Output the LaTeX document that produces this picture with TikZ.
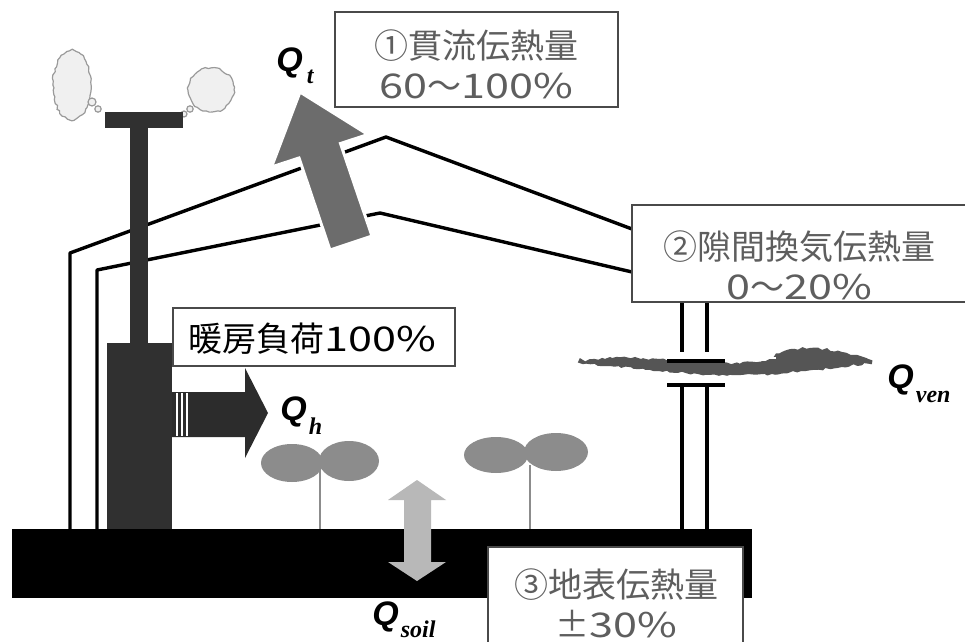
\documentclass[tikz,border=0pt]{standalone}
\usepackage{fontspec}
\usetikzlibrary{decorations.pathmorphing}
\newfontfamily\jpfont{Noto Sans CJK JP}
\newfontfamily\jpdigits[FakeStretch=1.27]{Noto Sans CJK JP}
\newfontfamily\qfont{Liberation Sans}
\newfontfamily\subfont{Liberation Serif}
\newcommand{\dg}[1]{{\jpdigits #1}}
\newcommand{\subsz}{\subfont\fontsize{12pt}{12pt}\selectfont}
\definecolor{boxgray}{HTML}{4A4A4A}
\definecolor{textgray}{HTML}{5E5E5E}
\definecolor{stovegray}{HTML}{303030}
\definecolor{heatgray}{HTML}{2C2C2C}
\definecolor{roofarrow}{HTML}{6C6C6C}
\definecolor{soilarrow}{HTML}{B8B8B8}
\definecolor{plantgray}{HTML}{8C8C8C}
\definecolor{ventgray}{HTML}{555555}
\definecolor{cloudline}{HTML}{9A9A9A}
\definecolor{cloudfill}{HTML}{F0F0F0}
\begin{document}
\begin{tikzpicture}[x=0.5pt,y=-0.5pt,
  boxframe/.style={draw=boxgray, line width=1pt, fill=white, inner sep=0pt},
  boxtext/.style={font=\jpfont\fontsize{17pt}{20pt}\selectfont, text=textgray, align=center, inner sep=0pt},
  wall/.style={line width=1.7pt, line join=round},
  qlabel/.style={font=\qfont\bfseries\itshape\fontsize{17pt}{17pt}\selectfont, inner sep=0pt, anchor=base west},
  cloud/.style={draw=cloudline, fill=cloudfill, line width=0.6pt, decorate,
    decoration={random steps, segment length=1.5pt, amplitude=0.5pt}},
  bubble/.style={draw=cloudline, fill=cloudfill, line width=0.6pt},
  leaf/.style={fill=plantgray},
]
\pgfmathsetseed{7}
\useasboundingbox (0,0) rectangle (965,642);
\fill[white] (0,0) rectangle (965,642);

% greenhouse envelope: outer and inner film lines
\draw[wall] (70,529) -- (70,253) -- (386,137) -- (632,229);
\draw[wall] (97,529) -- (97,270) -- (380,213) -- (632,272);

% right wall with the ventilation gap
\draw[wall] (682,302) -- (682,352) (707,302) -- (707,352);
\draw[wall] (682,385) -- (682,529) (707,385) -- (707,529);

% chimney smoke
\draw[cloud] (72,85) ellipse [x radius=9.5pt, y radius=17.5pt];
\draw[bubble] (92,102) circle [radius=2pt];
\draw[bubble] (98,109) circle [radius=1.6pt];
\draw[cloud] (211,90) ellipse [x radius=11.5pt, y radius=11pt];
\draw[bubble] (190,109) circle [radius=1.6pt];
\draw[bubble] (184,114) circle [radius=1.5pt];

% heater and chimney
\fill[stovegray] (105,112) rectangle (183,128);
\fill[stovegray] (130,128) rectangle (148,345);
\fill[stovegray] (107,343) rectangle (172,529);

% ground
\fill[black] (12,529) rectangle (752,598);

% seedlings
\draw[plantgray, line width=1.2pt] (320,470) -- (320,529);
\fill[leaf] (292,463) ellipse [x radius=15.5pt, y radius=9.5pt];
\fill[leaf] (349,461) ellipse [x radius=15pt, y radius=10pt];
\draw[plantgray, line width=1.2pt] (530,465) -- (530,529);
\fill[leaf] (496,455) ellipse [x radius=16pt, y radius=9pt];
\fill[leaf] (556,452) ellipse [x radius=16pt, y radius=9.5pt];

% air leaking through the gap
\fill[ventgray, decorate, decoration={random steps, segment length=2pt, amplitude=0.6pt}]
  plot[smooth cycle, tension=0.6] coordinates {
    (578,362) (612,358) (660,359) (720,363) (762,361) (782,352) (810,348)
    (842,352) (872,361) (842,367) (806,371) (772,374) (738,375) (698,374)
    (650,370) (610,366)};
\draw[white, line width=0.8pt] (742,358) -- (776,358);
\draw[wall] (667,361) -- (725,361) (667,385) -- (725,385);

% heat through the roof
\fill[roofarrow, draw=white, line width=1.5pt, line join=miter]
  (330,250) -- (299,158) -- (271.5,167) -- (300,92) -- (368,134.5)
  -- (340.5,143.5) -- (372,236) -- cycle;

% heat from the heater
\fill[heatgray] (172,392) -- (245,392) -- (245,368) -- (268,413)
  -- (245,458) -- (245,437) -- (172,437) -- cycle;
\draw[white, line width=0.6pt] (177,393) -- (177,436) (182,393) -- (182,436)
  (187,393) -- (187,436);

% heat exchanged with the soil
\fill[soilarrow] (417,480) -- (446,500) -- (431,500) -- (431,562) -- (446,562)
  -- (417,581) -- (388,562) -- (404,562) -- (404,500) -- (388,500) -- cycle;

% labelled boxes
\node[boxframe, minimum width=141.5pt, minimum height=47.5pt] (b1) at (476.5,59.5) {};
\node[boxtext] (b1t) at (476,64) {①貫流伝熱量\\\dg{60}～\dg{100\%}};
\node[boxframe, minimum width=167pt, minimum height=48.5pt] (b2) at (799,253.5) {};
\node[boxtext] (b2t) at (799,265) {②隙間換気伝熱量\\\dg{0}～\dg{20\%}};
\node[boxframe, minimum width=127.5pt, minimum height=52pt] (b3) at (615.5,599) {};
\node[boxtext] (b3t) at (616,603) {③地表伝熱量\\±\dg{30\%}};
\node[boxframe, minimum width=141pt, minimum height=29pt] (b4) at (314,337) {};
\node[boxtext, text=black] (b4t) at (312,339) {暖房負荷\dg{100\%}};

% flux symbols
\node[qlabel] (qt) at (276,72) {Q\hspace{2pt}\raisebox{-6pt}{\subsz t}};
\node[qlabel] (qh) at (280,420) {Q\hspace{1pt}\raisebox{-7pt}{\subsz h}};
\node[qlabel] (qven) at (887,388) {Q\hspace{1pt}\raisebox{-7pt}{\subsz ven}};
\node[qlabel] (qsoil) at (372,625) {Q\hspace{1pt}\raisebox{-6pt}{\subsz soil}};
\end{tikzpicture}
\end{document}
